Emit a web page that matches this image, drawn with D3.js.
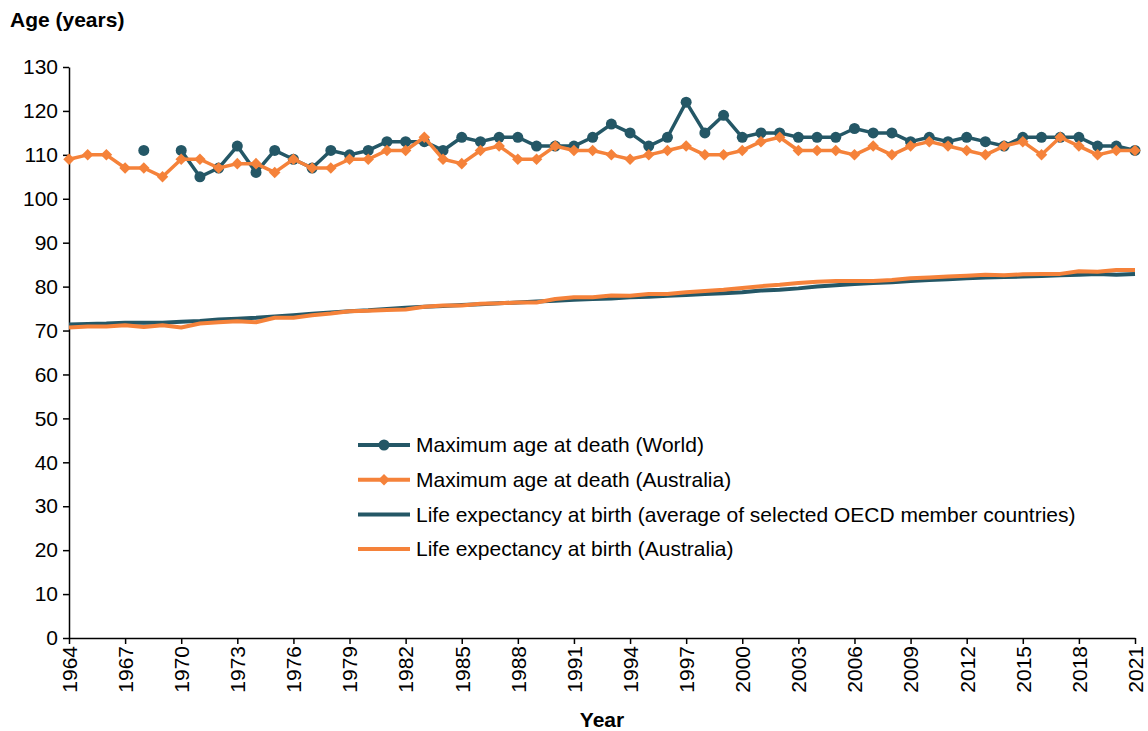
<!DOCTYPE html>
<html>
<head>
<meta charset="utf-8">
<script src="https://cdn.jsdelivr.net/npm/d3@7"></script>
<style>
  body { margin: 0; background: #fff; }
  svg { display: block; font-family: Arial, "Liberation Sans", sans-serif; }
</style>
</head>
<body>
<div id="chart"></div>
<script>
// data
const years = d3.range(1964, 2022);

const worldMax = [
  null, null, null, null, 111, null, 111, 105, 107, 112,
  106, 111, 109, 107, 111, 110, 111, 113, 113, 113,
  111, 114, 113, 114, 114, 112, 112, 112, 114, 117,
  115, 112, 114, 122, 115, 119, 114, 115, 115, 114,
  114, 114, 116, 115, 115, 113, 114, 113, 114, 113,
  112, 114, 114, 114, 114, 112, 112, 111
];

const ausMax = [
  109, 110, 110, 107, 107, 105, 109, 109, 107, 108,
  108, 106, 109, 107, 107, 109, 109, 111, 111, 114,
  109, 108, 111, 112, 109, 109, 112, 111, 111, 110,
  109, 110, 111, 112, 110, 110, 111, 113, 114, 111,
  111, 111, 110, 112, 110, 112, 113, 112, 111, 110,
  112, 113, 110, 114, 112, 110, 111, 111
];

const oecdLife = [
  71.4, 71.5, 71.6, 71.8, 71.8, 71.8, 72.0, 72.2, 72.5, 72.7,
  72.9, 73.2, 73.5, 73.8, 74.1, 74.4, 74.6, 74.9, 75.2, 75.4,
  75.6, 75.8, 76.0, 76.2, 76.4, 76.6, 76.8, 77.0, 77.2, 77.3,
  77.6, 77.7, 77.9, 78.1, 78.3, 78.5, 78.7, 79.1, 79.3, 79.6,
  80.0, 80.3, 80.6, 80.8, 81.0, 81.3, 81.5, 81.7, 81.9, 82.1,
  82.2, 82.3, 82.4, 82.6, 82.7, 82.9, 82.7, 82.9
];

const ausLife = [
  70.7, 70.9, 70.9, 71.2, 70.8, 71.2, 70.7, 71.6, 71.9, 72.1,
  71.9, 72.9, 72.9, 73.5, 73.9, 74.4, 74.5, 74.7, 74.8, 75.4,
  75.7, 75.7, 76.1, 76.2, 76.4, 76.4, 77.2, 77.6, 77.6, 78.0,
  77.9, 78.3, 78.3, 78.7, 79.0, 79.3, 79.7, 80.1, 80.4, 80.8,
  81.1, 81.3, 81.3, 81.3, 81.5, 81.9, 82.1, 82.3, 82.5, 82.7,
  82.6, 82.8, 82.9, 82.9, 83.5, 83.4, 83.8, 83.8
];

const yTicks = d3.range(0, 131, 10);
const xTicks = d3.range(1964, 2022, 3);

const legendLabels = [
  'Maximum age at death (World)',
  'Maximum age at death (Australia)',
  'Life expectancy at birth (average of selected OECD member countries)',
  'Life expectancy at birth (Australia)'
];

const teal = '#245766';
const orange = '#F5823A';
const fontSize = 21;

const width = 1148, height = 731;
const margin = { left: 69, right: 13, top: 67, bottom: 93 };

const svg = d3.select('#chart').append('svg')
  .attr('width', width)
  .attr('height', height);

const x = d3.scaleLinear().domain([1964, 2021]).range([margin.left, width - margin.right]);
const y = d3.scaleLinear().domain([0, 130]).range([height - margin.bottom, margin.top]);

// axes
const yAxis = d3.axisLeft(y).tickValues(yTicks).tickSize(6).tickPadding(5).tickSizeOuter(0);
const gy = svg.append('g').attr('transform', `translate(${margin.left},0)`).call(yAxis);
gy.select('.domain').attr('stroke', '#000').attr('stroke-width', 1.5);
gy.selectAll('.tick line').attr('stroke', '#000').attr('stroke-width', 1.5);
gy.selectAll('.tick text').attr('font-size', fontSize).attr('fill', '#000');

const xAxis = d3.axisBottom(x).tickValues(xTicks).tickFormat(d3.format('d')).tickSize(6).tickSizeOuter(0);
const gx = svg.append('g').attr('transform', `translate(0,${y(0)})`).call(xAxis);
gx.select('.domain').attr('stroke', '#000').attr('stroke-width', 1.5);
gx.selectAll('.tick line').attr('stroke', '#000').attr('stroke-width', 1.5);
gx.selectAll('.tick text')
  .attr('font-size', fontSize)
  .attr('fill', '#000')
  .attr('transform', 'rotate(-90)')
  .attr('text-anchor', 'end')
  .attr('x', -8)
  .attr('y', 0)
  .attr('dy', '0.35em');

svg.append('text')
  .attr('x', 10).attr('y', 27)
  .attr('font-size', fontSize).attr('font-weight', 'bold')
  .text('Age (years)');

svg.append('text')
  .attr('x', (margin.left + width - margin.right) / 2).attr('y', 727)
  .attr('text-anchor', 'middle')
  .attr('font-size', fontSize).attr('font-weight', 'bold')
  .text('Year');

// lines
const toPts = arr => years.map((yr, i) => ({ year: yr, v: arr[i] }));

const line = d3.line()
  .defined(d => d.v != null)
  .x(d => x(d.year))
  .y(d => y(d.v));

svg.append('path').datum(toPts(oecdLife))
  .attr('d', line).attr('fill', 'none')
  .attr('stroke', teal).attr('stroke-width', 4).attr('stroke-linejoin', 'round');

svg.append('path').datum(toPts(ausLife))
  .attr('d', line).attr('fill', 'none')
  .attr('stroke', orange).attr('stroke-width', 4).attr('stroke-linejoin', 'round');

const worldPts = toPts(worldMax);
svg.append('path').datum(worldPts)
  .attr('d', line).attr('fill', 'none')
  .attr('stroke', teal).attr('stroke-width', 3.5).attr('stroke-linejoin', 'round');
svg.append('g').selectAll('circle')
  .data(worldPts.filter(d => d.v != null))
  .enter().append('circle')
  .attr('cx', d => x(d.year)).attr('cy', d => y(d.v))
  .attr('r', 5.5).attr('fill', teal);

const ausPts = toPts(ausMax);
const diamond = d3.symbol().type(d3.symbolDiamond2).size(85);
svg.append('path').datum(ausPts)
  .attr('d', line).attr('fill', 'none')
  .attr('stroke', orange).attr('stroke-width', 3.5).attr('stroke-linejoin', 'round');
svg.append('g').selectAll('path')
  .data(ausPts)
  .enter().append('path')
  .attr('d', diamond)
  .attr('transform', d => `translate(${x(d.year)},${y(d.v)})`)
  .attr('fill', orange);

// legend
const legend = svg.append('g').attr('transform', 'translate(358,445)');
const legendItems = [
  { color: teal, marker: 'circle' },
  { color: orange, marker: 'diamond' },
  { color: teal, marker: null },
  { color: orange, marker: null }
];
legendItems.forEach((item, i) => {
  const g = legend.append('g').attr('transform', `translate(0,${i * 34.7})`);
  g.append('line').attr('x1', 0).attr('x2', 52).attr('y1', 0).attr('y2', 0)
    .attr('stroke', item.color).attr('stroke-width', 4);
  if (item.marker === 'circle') {
    g.append('circle').attr('cx', 26).attr('cy', 0).attr('r', 5.5).attr('fill', item.color);
  } else if (item.marker === 'diamond') {
    g.append('path').attr('d', diamond).attr('transform', 'translate(26,0)').attr('fill', item.color);
  }
  g.append('text').attr('x', 58).attr('y', 0).attr('dy', '0.35em')
    .attr('font-size', fontSize).attr('fill', '#000')
    .text(legendLabels[i]);
});
</script>
</body>
</html>
